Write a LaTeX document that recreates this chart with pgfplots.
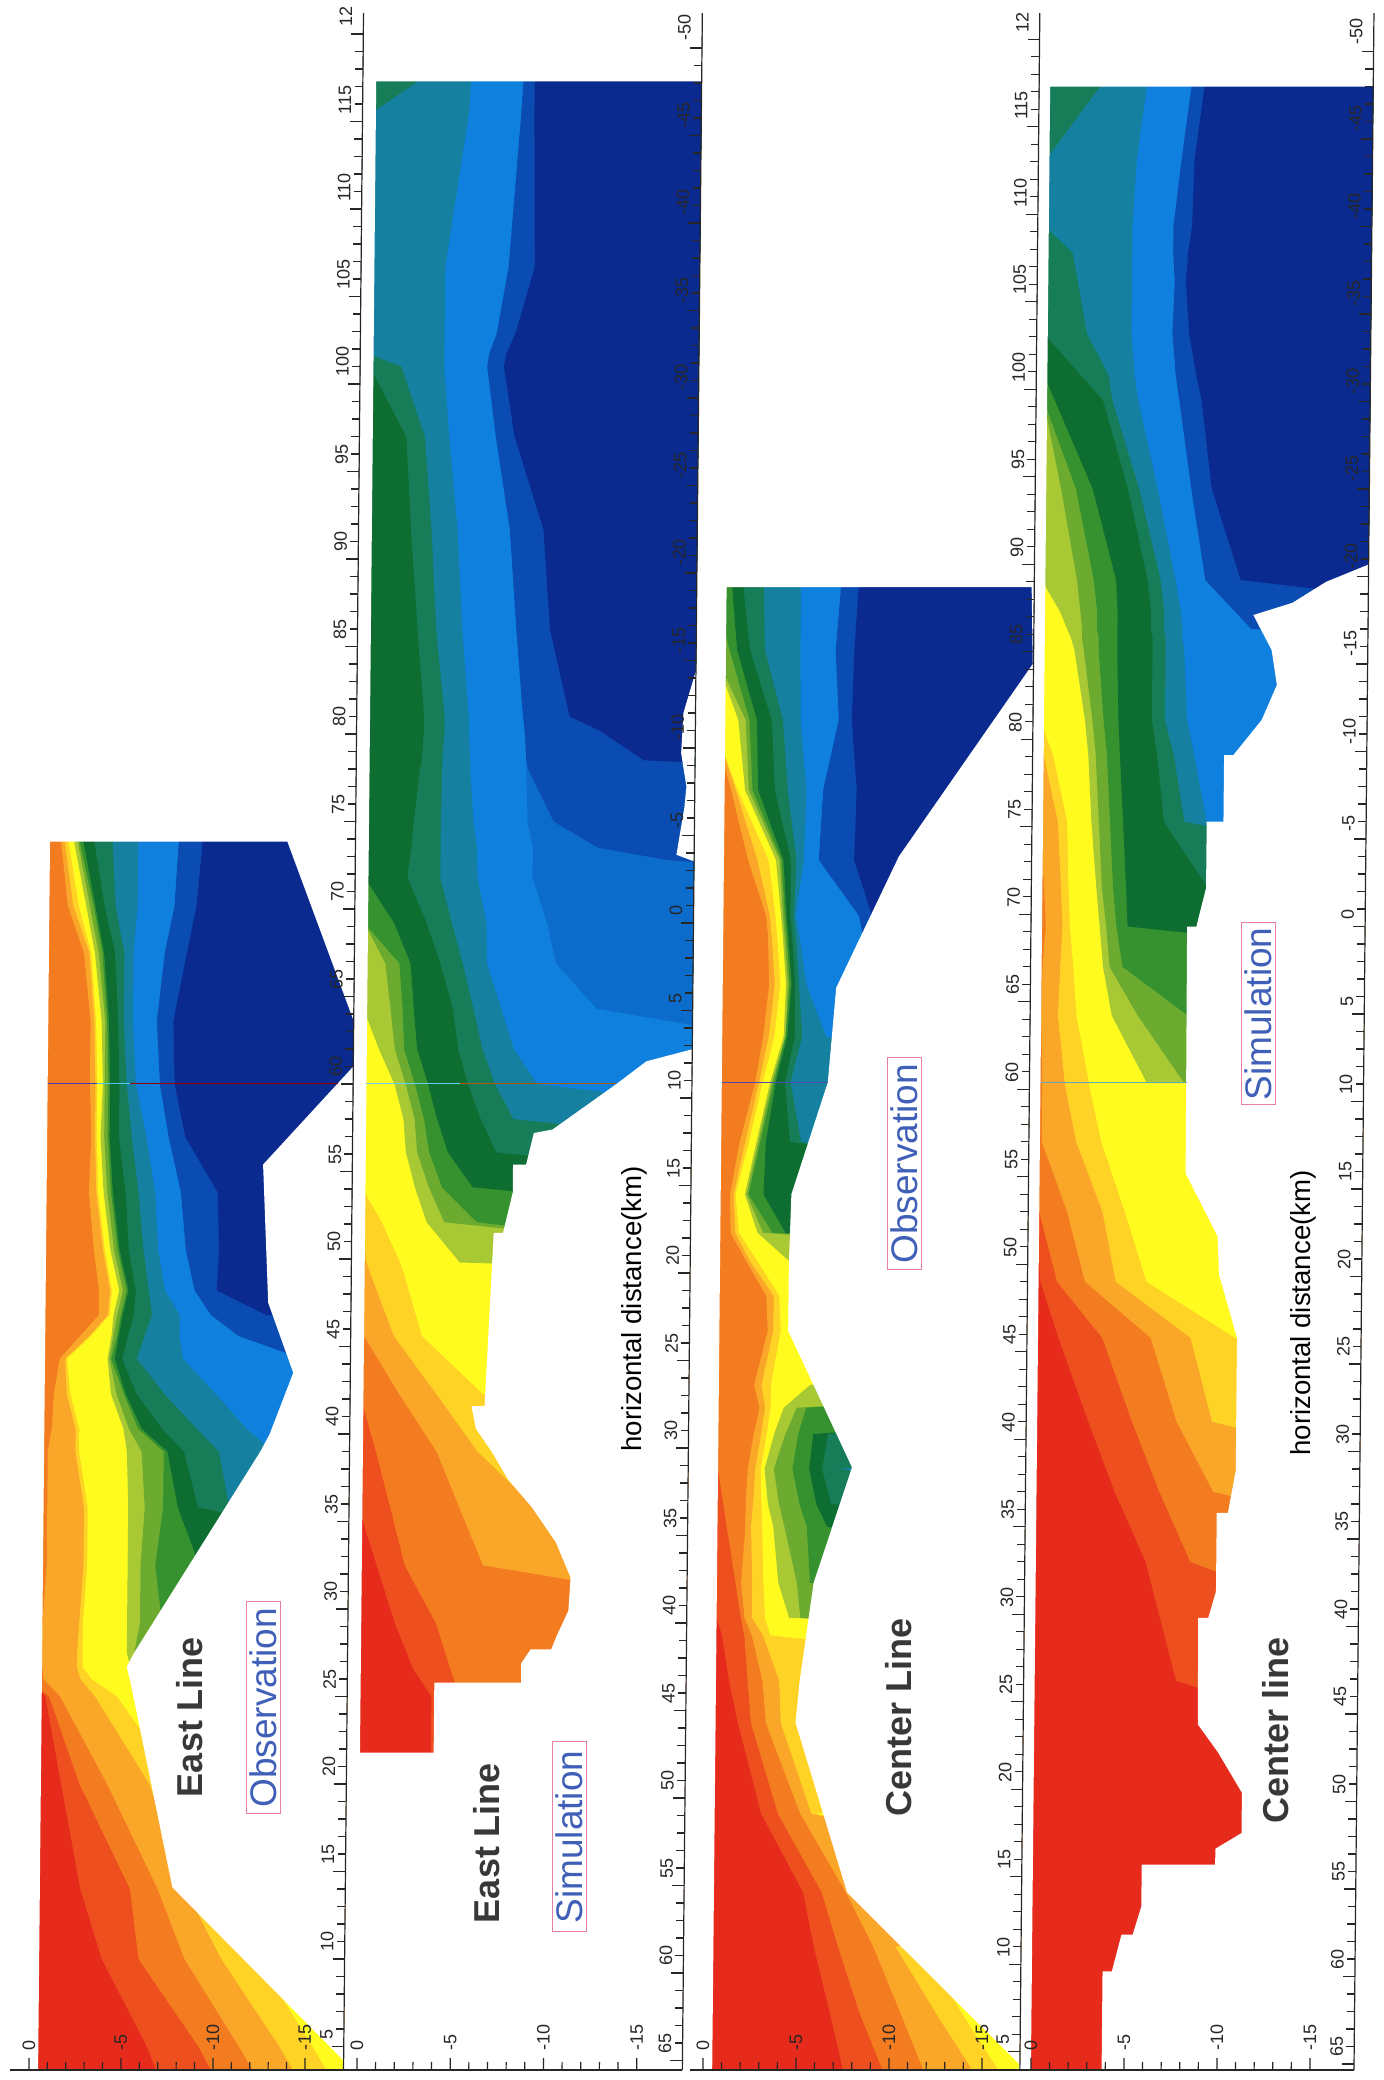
\documentclass[border=0pt]{standalone}
\usepackage{fontspec}
\setmainfont{Liberation Sans}
\usepackage{pgfplots}
\usepackage{pgfplotstable}
\pgfplotsset{compat=1.18}
\definecolor{col0}{HTML}{E62A1B}
\definecolor{col1}{HTML}{EE4F1E}
\definecolor{col2}{HTML}{F47C20}
\definecolor{col3}{HTML}{FAA628}
\definecolor{col4}{HTML}{FFD226}
\definecolor{col5}{HTML}{FFFB1E}
\definecolor{col6}{HTML}{A8C934}
\definecolor{col7}{HTML}{6CAB2F}
\definecolor{col8}{HTML}{35922E}
\definecolor{col9}{HTML}{0E6E31}
\definecolor{col10}{HTML}{177C58}
\definecolor{col11}{HTML}{1580A0}
\definecolor{col12}{HTML}{1080DE}
\definecolor{colb}{HTML}{0C6CCC}
\definecolor{col13}{HTML}{0B4CB2}
\definecolor{col14}{HTML}{0A2A90}
\definecolor{labblue}{HTML}{3F5FB8}
\definecolor{labpink}{HTML}{E87DA8}

\pgfplotstableread{
d k1 k2 k3 k4 k5 k6 k7 k8 k9 k10 k11 k12 k13 k14
130 -40 -40 -40 -40 -40 -40 -40 -40 -40 -40 -40 -40 -40 -40
130 0.2 0.2 -1.1 -1.3 -1.5 -1.8 -2 -2.1 -2.3 -2.9 -3.9 -5.3 -7.5 -8.8
73.9 0.2 0.2 -1.1 -1.3 -1.5 -1.8 -2 -2.1 -2.3 -2.9 -3.9 -5.3 -7.5 -8.8
70.2 0.2 0.2 -1.5 -1.8 -2.1 -2.5 -2.7 -2.9 -3 -3.5 -4.1 -5.3 -7.3 -8.5
67.5 0.2 0.2 -2.4 -2.7 -2.8 -3 -3.2 -3.4 -3.5 -4.1 -4.6 -5.1 -6.8 -8
63.6 0.2 0.2 -2.8 -3 -3.1 -3.4 -3.6 -3.7 -3.8 -4.3 -4.6 -5.1 -6.4 -7.3
60 0.2 0.2 -2.8 -3.1 -3.2 -3.5 -3.6 -3.8 -3.9 -4.4 -4.8 -5.3 -6.6 -7.4
57 0.2 0.2 -2.9 -3.1 -3.2 -3.4 -3.6 -3.8 -3.9 -4.4 -5.1 -5.9 -7.1 -8
53.8 0.2 0.2 -2.8 -3.2 -3.3 -3.6 -3.8 -4 -4.1 -4.8 -5.5 -6.4 -7.8 -9.8
50.5 0.2 0.2 -3.1 -3.6 -3.7 -4 -4.2 -4.4 -4.5 -5 -5.8 -6.6 -8.1 -9.9
48.2 0.2 0.2 -3.4 -4 -4.1 -4.5 -4.7 -4.9 -5 -5.4 -6.1 -7 -8.6 -9.8
46.8 0.2 0.2 -3.4 -3.9 -4 -4.2 -4.4 -4.6 -4.7 -5.3 -6.3 -7.8 -9.5 -12.5
45.6 0.2 0.2 -2.4 -2.9 -3 -4.1 -4.2 -4.4 -4.5 -5 -5.9 -7.8 -11 -25
44.3 0.2 0.2 -1.3 -1.6 -1.7 -3.9 -4 -4.1 -4.3 -4.7 -5.5 -8 -14.5 -25
42.3 0.2 0.2 -1 -1.7 -1.9 -4.1 -4.4 -4.8 -4.9 -5.5 -7 -9.8 -25 -25
40.3 0.2 0.2 -0.9 -2.2 -2.4 -4.8 -5.1 -5.6 -5.8 -6.9 -8.8 -11.5 -25 -25
39 0.2 0.2 -0.7 -2.2 -2.4 -5 -5.8 -7 -7.2 -8.1 -10 -13 -25 -25
35.8 0.2 0.2 -0.7 -2.7 -2.9 -5.1 -6 -7 -7.8 -8.9 -10.6 -25 -25 -25
32.5 0.2 0.2 -0.7 -2.7 -2.9 -5.1 -5.8 -6.6 -9 -25 -25 -25 -25 -25
29.2 0.2 0.2 -0.5 -2.5 -2.7 -5.1 -5.8 -7 -25 -25 -25 -25 -25 -25
27.5 0.2 0.2 -0.4 -2.4 -2.7 -5.1 -5.5 -6 -25 -25 -25 -25 -25 -25
26.7 0.2 0.2 -0.5 -2.4 -2.7 -5.3 -25 -25 -25 -25 -25 -25 -25 -25
26 0.2 0.2 -0.6 -2.6 -3.2 -25 -25 -25 -25 -25 -25 -25 -25 -25
25 -0.7 -0.9 -1.5 -3.4 -4.6 -25 -25 -25 -25 -25 -25 -25 -25 -25
20 -1.6 -2.6 -4.1 -6.4 -8 -25 -25 -25 -25 -25 -25 -25 -25 -25
14 -2.7 -5.4 -6.9 -8.4 -9.5 -25 -25 -25 -25 -25 -25 -25 -25 -25
10 -3.9 -5.9 -8.4 -10.4 -12.4 -25 -25 -25 -25 -25 -25 -25 -25 -25
5 -6.4 -9.2 -11.4 -13.6 -15.4 -25 -25 -25 -25 -25 -25 -25 -25 -25
-10 -12 -17 -20 -22 -24 -25 -25 -25 -25 -25 -25 -25 -25 -25
-10 -40 -40 -40 -40 -40 -40 -40 -40 -40 -40 -40 -40 -40 -40
}\tabA

\pgfplotstableread{
d k1 k2 k3 k4 k5 k6 k7 k8 k9 k10 k11 k12 kb k13 k14
130 -40 -40 -40 -40 -40 -40 -40 -40 -40 -40 -40 -40 -40 -40 -40
130 0.2 0.2 0.2 0.2 0.2 0.2 0.2 0.2 0.2 0.2 -2.25 -5.1 -7.9 -7.9 -8.5
117.3 0.2 0.2 0.2 0.2 0.2 0.2 0.2 0.2 0.2 0.2 -2.25 -5.1 -7.9 -7.9 -8.5
115.5 0.2 0.2 0.2 0.2 0.2 0.2 0.2 0.2 0.2 0.2 0.2 -5 -7.8 -7.8 -8.5
106.7 0.2 0.2 0.2 0.2 0.2 0.2 0.2 0.2 0.2 0.2 0.2 -3.8 -7.2 -7.2 -8.6
102.9 0.2 0.2 0.2 0.2 0.2 0.2 0.2 0.2 0.2 0.2 0.2 -3.8 -6.6 -6.6 -7.6
101.7 0.2 0.2 0.2 0.2 0.2 0.2 0.2 0.2 0.2 0.2 0.2 -3.8 -6.2 -6.2 -7.1
101 0.2 0.2 0.2 0.2 0.2 0.2 0.2 0.2 0.2 0.2 -1.5 -3.8 -6.1 -6.1 -7
97 0.2 0.2 0.2 0.2 0.2 0.2 0.2 0.2 0.2 -1.8 -2.8 -4.1 -6.6 -6.6 -7.6
91.7 0.2 0.2 0.2 0.2 0.2 0.2 0.2 0.2 0.2 -2.1 -3.2 -4.6 -7.4 -7.4 -9.2
86 0.2 0.2 0.2 0.2 0.2 0.2 0.2 0.2 0.2 -2.5 -3.5 -4.9 -7.8 -7.8 -9.6
81 0.2 0.2 0.2 0.2 0.2 0.2 0.2 0.2 0.2 -2.9 -4 -5.3 -8.2 -8.2 -10.7
80.2 0.2 0.2 0.2 0.2 0.2 0.2 0.2 0.2 0.2 -2.9 -4 -5.3 -8.3 -8.3 -12.3
78.5 0.2 0.2 0.2 0.2 0.2 0.2 0.2 0.2 0.2 -2.8 -3.9 -5.4 -8.4 -8.4 -14.7
78 0.2 0.2 0.2 0.2 0.2 0.2 0.2 0.2 0.2 -2.7 -3.9 -5.4 -8.4 -8.5 -25
75 0.2 0.2 0.2 0.2 0.2 0.2 0.2 0.2 0.2 -2.4 -3.85 -5.6 -8.5 -9.9 -25
73.5 0.2 0.2 0.2 0.2 0.2 0.2 0.2 0.2 0.2 -2.3 -3.85 -5.8 -8.8 -12.3 -25
72.8 0.2 0.2 0.2 0.2 0.2 0.2 0.2 0.2 0.2 -2.2 -3.85 -5.8 -8.8 -16 -25
72 0.2 0.2 0.2 0.2 0.2 0.2 0.2 0.2 0.2 -2.1 -3.85 -5.85 -8.8 -25 -25
71.8 0.2 0.2 0.2 0.2 0.2 0.2 0.2 0.2 0.2 -2.1 -3.85 -5.85 -8.8 -25 -25
69.2 0.2 0.2 0.2 0.2 0.2 0.2 0.2 0.2 -1.4 -3.15 -4.5 -6.35 -9.6 -25 -25
66.9 0.2 0.2 0.2 0.2 0.2 0.2 -0.95 -1.7 -2.3 -3.9 -5.1 -6.4 -10.1 -25 -25
64.3 0.2 0.2 0.2 0.2 0.2 0.2 -1.25 -1.9 -2.5 -4.6 -5.7 -7.2 -12.3 -25 -25
62 0.2 0.2 0.2 0.2 0.2 -0.65 -1.5 -2 -2.7 -4.9 -6.2 -7.9 -25 -25 -25
60 0.2 0.2 0.2 0.2 0.2 -1.5 -2.1 -2.6 -3.3 -5.45 -6.9 -9.15 -25 -25 -25
58 0.2 0.2 0.2 0.2 0.2 -2 -2.6 -3.1 -3.8 -6.15 -7.9 -25 -25 -25 -25
56.1 0.2 0.2 0.2 0.2 0.2 -2.15 -2.75 -3.4 -4.4 -7 -25 -25 -25 -25 -25
54.1 0.2 0.2 0.2 0.2 0.2 -2.65 -3.4 -4.1 -5.75 -25 -25 -25 -25 -25 -25
52.1 0.2 0.2 0.2 0.2 -0.9 -3.3 -4.25 -6 -25 -25 -25 -25 -25 -25 -25
49.8 0.2 0.2 0.2 -0.1 -1.9 -5.1 -25 -25 -25 -25 -25 -25 -25 -25 -25
49.2 0.2 0.2 0.2 -0.3 -2.1 -25 -25 -25 -25 -25 -25 -25 -25 -25 -25
45.6 0.2 0.2 0 -1.6 -3.1 -25 -25 -25 -25 -25 -25 -25 -25 -25 -25
42.3 0.2 0.2 -1.9 -3.9 -6.4 -25 -25 -25 -25 -25 -25 -25 -25 -25 -25
39 0.2 -0.7 -3.95 -6.15 -25 -25 -25 -25 -25 -25 -25 -25 -25 -25 -25
35.8 0.2 -1.5 -5.2 -9.3 -25 -25 -25 -25 -25 -25 -25 -25 -25 -25 -25
32.5 -0.8 -2.3 -6.5 -25 -25 -25 -25 -25 -25 -25 -25 -25 -25 -25 -25
29.2 -1.8 -4 -25 -25 -25 -25 -25 -25 -25 -25 -25 -25 -25 -25 -25
26.6 -2.8 -4.8 -25 -25 -25 -25 -25 -25 -25 -25 -25 -25 -25 -25 -25
25 -3.8 -5.3 -25 -25 -25 -25 -25 -25 -25 -25 -25 -25 -25 -25 -25
-10 -3.8 -5.3 -25 -25 -25 -25 -25 -25 -25 -25 -25 -25 -25 -25 -25
-10 -40 -40 -40 -40 -40 -40 -40 -40 -40 -40 -40 -40 -40 -40 -40
}\tabB

\pgfplotstableread{
d k1 k2 k3 k4 k5 k6 k7 k8 k9 k10 k11 k12 k13 k14
130 -40 -40 -40 -40 -40 -40 -40 -40 -40 -40 -40 -40 -40 -40
130 0.2 0.2 0.2 0.2 0.2 0.2 0.2 0.2 -0.8 -1.4 -2.5 -4.5 -6.65 -7.6
88.4 0.2 0.2 0.2 0.2 0.2 0.2 0.2 0.2 -0.8 -1.4 -2.5 -4.5 -6.65 -7.6
84.8 0.2 0.2 0.2 0.2 0.2 0.2 0.2 -0.7 -1.1 -1.8 -2.6 -4.5 -6.4 -7.4
80.8 0.2 0.2 0.2 0.2 0.2 -1.2 -1.6 -1.8 -2.2 -3 -3.6 -4.55 -6.6 -7.3
76.8 0.2 0.2 -0.85 -1.1 -1.2 -1.6 -1.8 -2 -2.3 -3.2 -3.9 -4.9 -5.8 -7.6
72.8 0.2 0.2 -1.8 -2.3 -2.9 -3.3 -3.5 -3.6 -3.7 -4.1 -4.4 -4.8 -5.6 -7.5
69.6 0.2 0.2 -2.8 -3 -3.3 -3.6 -3.7 -3.8 -3.9 -4.1 -4.3 -4.4 -7.8 -8.5
68.5 0.2 0.2 -2.9 -3.1 -3.4 -3.7 -3.8 -3.9 -4 -4.2 -4.4 -4.6 -8 -25
65.7 0.2 0.2 -3 -3.3 -3.6 -3.9 -4 -4.1 -4.2 -4.4 -4.6 -5 -25 -25
62.7 0.2 0.2 -2.7 -3 -3.3 -3.8 -3.9 -3.9 -4 -4.4 -4.8 -6.1 -25 -25
60.1 0.2 0.2 -2.3 -2.5 -2.7 -3.1 -3.2 -3.3 -3.4 -3.9 -4.2 -25 -25 -25
56.7 0.2 0.2 -1.5 -1.8 -2 -2.4 -2.5 -2.6 -2.9 -4.2 -4.8 -25 -25 -25
53.7 0.2 0.2 -1 -1.2 -1.3 -1.8 -1.9 -2 -2.8 -25 -25 -25 -25 -25
51.5 0.2 0.2 -1.05 -1.3 -1.5 -2.5 -2.8 -3.3 -4 -25 -25 -25 -25 -25
49.9 0.2 0.2 -1.9 -2.1 -2.5 -4.2 -25 -25 -25 -25 -25 -25 -25 -25
47.9 0.2 0.2 -3 -3.4 -3.7 -25 -25 -25 -25 -25 -25 -25 -25 -25
45.9 0.2 0.2 -3.1 -3.4 -3.8 -25 -25 -25 -25 -25 -25 -25 -25 -25
42.8 0.2 0.2 -2.4 -2.8 -3.3 -5.4 -25 -25 -25 -25 -25 -25 -25 -25
41.5 0.2 0.2 -2.7 -3 -3.3 -4 -4.7 -5.2 -25 -25 -25 -25 -25 -25
40 0.2 -0.3 -2.4 -2.8 -3.1 -3.5 -4.1 -4.8 -5.6 -6.4 -25 -25 -25 -25
38 0.2 -0.5 -2.1 -2.5 -2.8 -3 -3.5 -4.5 -5.4 -6.1 -7 -25 -25 -25
36 0.2 -0.8 -2 -2.4 -2.85 -3.2 -3.8 -4.9 -5.8 -6.6 -25 -25 -25 -25
34.7 0.2 -1 -2 -2.3 -2.9 -3.5 -4.1 -5.3 -6.4 -25 -25 -25 -25 -25
31.5 0.2 -1.5 -1.8 -2.4 -3 -3.8 -4.8 -5.5 -25 -25 -25 -25 -25 -25
29.5 -0.5 -1.8 -2 -2.4 -3.1 -4.4 -5 -25 -25 -25 -25 -25 -25 -25
28.5 -0.8 -2 -2.4 -3 -3.4 -25 -25 -25 -25 -25 -25 -25 -25 -25
25.9 -1.2 -2.2 -3 -3.9 -25 -25 -25 -25 -25 -25 -25 -25 -25 -25
23.5 -1.7 -2.4 -3.2 -4 -25 -25 -25 -25 -25 -25 -25 -25 -25 -25
18.3 -3 -3.9 -5.1 -5.7 -6 -25 -25 -25 -25 -25 -25 -25 -25 -25
13.8 -5.3 -6.3 -7.6 -25 -25 -25 -25 -25 -25 -25 -25 -25 -25 -25
10.7 -5.9 -7.2 -9.1 -10.3 -11.7 -25 -25 -25 -25 -25 -25 -25 -25 -25
6.9 -6.8 -8.4 -10.6 -12.5 -13.9 -25 -25 -25 -25 -25 -25 -25 -25 -25
3.8 -7.5 -9.6 -11.8 -14.4 -15.8 -25 -25 -25 -25 -25 -25 -25 -25 -25
-10 -7.5 -9.6 -11.8 -14.4 -15.8 -25 -25 -25 -25 -25 -25 -25 -25 -25
-10 -40 -40 -40 -40 -40 -40 -40 -40 -40 -40 -40 -40 -40 -40
}\tabC

\pgfplotstableread{
d k1 k2 k3 k4 k5 k6 k7 k8 k9 k10 k11 k12 k13 k14
130 -40 -40 -40 -40 -40 -40 -40 -40 -40 -40 -40 -40 -40 -40
130 0.2 0.2 0.2 0.2 0.2 0.2 0.2 0.2 0.2 0.2 -2.7 -5.2 -7.6 -8.3
117 0.2 0.2 0.2 0.2 0.2 0.2 0.2 0.2 0.2 0.2 -2.7 -5.2 -7.6 -8.3
112.8 0.2 0.2 0.2 0.2 0.2 0.2 0.2 0.2 0.2 0.2 0.2 -4.7 -7.1 -7.8
109 0.2 0.2 0.2 0.2 0.2 0.2 0.2 0.2 0.2 0.2 0.2 -4.5 -6.7 -7.7
107.5 0.2 0.2 0.2 0.2 0.2 0.2 0.2 0.2 0.2 0.2 -1.3 -4.5 -6.7 -7.5
105.8 0.2 0.2 0.2 0.2 0.2 0.2 0.2 0.2 0.2 0.2 -1.6 -4.5 -6.8 -7.4
102.9 0.2 0.2 0.2 0.2 0.2 0.2 0.2 0.2 0.2 0.2 -2.1 -4.5 -6.7 -7.6
100.5 0.2 0.2 0.2 0.2 0.2 0.2 0.2 0.2 0.2 -1.8 -3.3 -4.7 -6.9 -8
99.1 0.2 0.2 0.2 0.2 0.2 0.2 0.2 0.2 -0.4 -3 -3.5 -4.9 -7.1 -8.3
94 0.2 0.2 0.2 0.2 0.2 0.2 -0.8 -1.6 -2.5 -4.4 -5 -6 -7.8 -8.9
88.8 0.2 0.2 0.2 0.2 0.2 0.2 -1.7 -2.6 -3.8 -5.5 -6.2 -7 -8.6 -10.5
87 0.2 0.2 0.2 0.2 0.2 -0.8 -1.9 -2.8 -3.9 -5.7 -6.4 -7.3 -10.2 -25
86 0.2 0.2 0.2 0.2 0.2 -1.2 -2 -2.8 -3.9 -5.7 -6.4 -7.4 -11.1 -25
85.5 0.2 0.2 0.2 0.2 0.2 -1.4 -2 -2.9 -3.9 -5.8 -6.5 -7.4 -25 -25
84.8 0.2 0.2 0.2 0.2 0.2 -1.6 -2.1 -2.9 -3.9 -5.8 -6.5 -7.5 -25 -25
80.8 0.2 0.2 0.2 0.2 0.2 -2.2 -2.6 -3.2 -4 -5.8 -6.5 -7.7 -25 -25
78.8 0.2 0.2 0.2 0 -0.5 -2.4 -2.8 -3.4 -4.1 -6.1 -7 -8.1 -25 -25
75 0.2 0.2 0.2 -0.8 -1.3 -2.6 -3 -3.6 -4.3 -6.5 -7.6 -8.8 -25 -25
71.2 0.2 0.2 -0.1 -1 -1.4 -2.9 -3.2 -3.8 -4.5 -8.9 -25 -25 -25 -25
69 0.2 0.2 -0.2 -1.1 -1.5 -3.1 -3.45 -4 -4.6 -25 -25 -25 -25 -25
66.7 0.2 0.2 -0.05 -1 -1.7 -3.3 -3.65 -4.35 -25 -25 -25 -25 -25 -25
63.9 0.2 0.2 0 -0.9 -1.9 -3.8 -5.2 -7.9 -25 -25 -25 -25 -25 -25
60.1 0.2 0.2 -0.1 -1.3 -2.6 -5.7 -7.7 -25 -25 -25 -25 -25 -25 -25
60 0.2 0.2 -0.1 -1.3 -2.6 -25 -25 -25 -25 -25 -25 -25 -25 -25
56.7 0.2 0.2 -0.1 -1.95 -3.3 -25 -25 -25 -25 -25 -25 -25 -25 -25
52.7 0.2 0 -1.5 -3.4 -4.6 -25 -25 -25 -25 -25 -25 -25 -25 -25
48.7 -0.1 -1 -2.5 -4.15 -5.8 -25 -25 -25 -25 -25 -25 -25 -25 -25
45.5 -1.1 -3.45 -6.05 -8.2 -10.6 -25 -25 -25 -25 -25 -25 -25 -25 -25
40.7 -2.75 -5.1 -7.5 -9.4 -25 -25 -25 -25 -25 -25 -25 -25 -25 -25
36.7 -4.2 -6.6 -9.5 -25 -25 -25 -25 -25 -25 -25 -25 -25 -25 -25
32.7 -5.9 -8.3 -25 -25 -25 -25 -25 -25 -25 -25 -25 -25 -25 -25
25.9 -7.6 -25 -25 -25 -25 -25 -25 -25 -25 -25 -25 -25 -25 -25
20 -25 -25 -25 -25 -25 -25 -25 -25 -25 -25 -25 -25 -25 -25
-10 -25 -25 -25 -25 -25 -25 -25 -25 -25 -25 -25 -25 -25 -25
-10 -40 -40 -40 -40 -40 -40 -40 -40 -40 -40 -40 -40 -40 -40
}\tabD

\newcommand{\bandp}[3]{\addplot[fill=#3,draw=none,forget plot] table[x=#2,y=d]{#1};}
\newcommand{\bandsone}[1]{%
\addplot[fill=col0,draw=none,forget plot] coordinates {(0.2,140) (-40,140) (-40,-10) (0.2,-10)};
\bandp{#1}{k1}{col1}\bandp{#1}{k2}{col2}\bandp{#1}{k3}{col3}\bandp{#1}{k4}{col4}%
\bandp{#1}{k5}{col5}\bandp{#1}{k6}{col6}\bandp{#1}{k7}{col7}\bandp{#1}{k8}{col8}%
\bandp{#1}{k9}{col9}\bandp{#1}{k10}{col10}\bandp{#1}{k11}{col11}\bandp{#1}{k12}{col12}}
\newcommand{\bandstwo}[1]{\bandp{#1}{k13}{col13}\bandp{#1}{k14}{col14}}

\pgfplotsset{panel/.style={
  anchor=origin, clip=true, axis on top, x dir=reverse,
  ymin=3.66, ymax=121.2,
  axis x line=bottom, axis y line=right,
  x axis line style={-}, y axis line style={-},
  axis line style={line width=0.6pt,black!85},
  tick style={line width=0.6pt,black!85},
  tick align=inside, major tick length=6pt, minor tick length=4pt,
  xtick={0,-5,-10,-15}, xticklabels={0,-5,-10,-15},
  minor x tick num=4, minor y tick num=4,
  ticklabel style={font=\fontsize{9}{9}\selectfont,text=black!85},
  xticklabel style={rotate=90,anchor=west,xshift=6pt},
  yticklabel style={rotate=90,anchor=south west,xshift=0pt,yshift=2pt},
}}

\begin{document}
\begin{tikzpicture}[x=1pt,y=1pt]
\useasboundingbox (0,0) rectangle (691.5,1040);

% East Line, observation
\begin{axis}[panel, at={(14.45pt,5pt)}, x={(9.2pt,0pt)}, y={(0.085pt,8.75pt)},
  xmin=-17.1, xmax=1,
  ytick={5,10,15,20,25,30,35,40,45,50,55,60,65,70,75,80,85,90,95,100,105,110,115,120},
  yticklabels={5,10,15,20,25,30,35,40,45,50,55,60,65,70,75,80,85,90,95,100,105,110,115,12}]
\bandsone{\tabA}\bandstwo{\tabA}
\addplot[fill=white,draw=none,even odd rule,forget plot] coordinates {(0.3,140) (-40,140) (-40,-10) (0.3,-10) (0.3,140)
 (-0.5,73.85) (-13.4,73.85) (-17.1,63.6) (-17.1,61) (-12.25,55.4) (-12.6,47.5) (-14,43.5) (-12.75,40) (-12.25,39) (-5.5,27.5) (-5.1,26.7) (-5.3,25.9) (-7.7,14.1) (-17.1,4.2) (-17.1,-10) (-0.5,-10) (-0.5,73.85) (0.3,140)};
\addplot[color=blue!50!gray,line width=0.4pt,forget plot] coordinates {(-0.5,60.06) (-3.2,60.06)};
\addplot[color=cyan!70!white,line width=0.4pt,forget plot] coordinates {(-3.2,60.06) (-5,60.06)};
\addplot[color=red!60!black,line width=0.4pt,forget plot] coordinates {(-5,60.06) (-16.3,60.06)};
\end{axis}

% East Line, simulation
\begin{axis}[panel, at={(178.45pt,5pt)}, x={(9.325pt,0pt)}, y={(0.085pt,8.75pt)},
  xmin=-17.45, xmax=0.7,
  ytick={4.2,9.2,14.2,19.2,24.2,29.2,34.2,39.2,44.2,49.2,54.2,59.2,64.2,69.2,74.2,79.2,84.2,89.2,94.2,99.2,104.2,109.2,114.2,119.2},
  yticklabels={65,60,55,50,45,40,35,30,25,20,15,10,5,0,-5,-10,-15,-20,-25,-30,-35,-40,-45,-50}]
\bandsone{\tabB}\bandp{\tabB}{kb}{colb}\bandstwo{\tabB}
\addplot[fill=white,draw=none,even odd rule,forget plot] coordinates {(0.3,140) (-40,140) (-40,-10) (0.3,-10) (0.3,140)
 (0,117.3) (-17.6,117.3) (-17.5,83.8) (-16.8,81.2) (-16.7,78.9) (-17,77) (-16.9,75.8) (-16.5,73.1) (-17.5,72.7) (-17.5,62) (-15,61.3) (-13.4,60) (-10,57.4) (-9,57.2) (-8.6,55.4) (-7.9,55.4) (-7.9,53.8) (-7.4,51.5) (-6.9,51.5) (-6.5,41.6) (-5.8,41.6) (-6.05,40.3) (-6.9,39) (-7.8,37.4) (-9.1,35.8) (-10.4,33.8) (-11.2,31.8) (-11.1,29.9) (-10.5,28.5) (-10.2,27.7) (-9.1,27.7) (-8.6,26.9) (-8.6,25.8) (-3.95,25.8) (-3.95,21.8) (0,21.8) (0,117.3) (0.3,140)};
\addplot[color=cyan!60!white,line width=0.4pt,forget plot] coordinates {(0,60.06) (-5,60.06)};
\addplot[color=orange!70!black,line width=0.4pt,forget plot] coordinates {(-5,60.06) (-13.4,60.06)};
\end{axis}

% Center Line, observation
\begin{axis}[panel, at={(351.45pt,5pt)}, x={(9.3pt,0pt)}, y={(0.085pt,8.75pt)},
  xmin=-17.04, xmax=0.7,
  ytick={4.7,9.7,14.7,19.7,24.7,29.7,34.7,39.7,44.7,49.7,54.7,59.7,64.7,69.7,74.7,79.7,84.7,89.7,94.7,99.7,104.7,109.7,114.7,119.7},
  yticklabels={5,10,15,20,25,30,35,40,45,50,55,60,65,70,75,80,85,90,95,100,105,110,115,12}]
\bandsone{\tabC}\bandstwo{\tabC}
\addplot[fill=white,draw=none,even odd rule,forget plot] coordinates {(0.3,140) (-40,140) (-40,-10) (0.3,-10) (0.3,140)
 (-0.5,88.4) (-16.9,88.4) (-17,84) (-9.9,73) (-6.6,65.5) (-6.2,60.1) (-4.3,53.7) (-4.2,49.7) (-4.2,45.9) (-7.7,38.1) (-5.7,31.5) (-5,25.9) (-4.8,23.5) (-7.66,13.8) (-17,4) (-17,-10) (-0.5,-10) (-0.5,88.4) (0.3,140)};
\addplot[color=blue!40!gray,line width=0.35pt,forget plot] coordinates {(-0.5,60.1) (-6.2,60.1)};
\end{axis}

% Center line, simulation
\begin{axis}[panel, at={(515.45pt,5pt)}, x={(9.3pt,0pt)}, y={(0.085pt,8.75pt)},
  xmin=-17.37, xmax=0.7,
  ytick={4,9,14,19,24,29,34,39,44,49,54,59,64,69,74,79,84,89,94,99,104,109,114,119},
  yticklabels={65,60,55,50,45,40,35,30,25,20,15,10,5,0,-5,-10,-15,-20,-25,-30,-35,-40,-45,-50}]
\bandsone{\tabD}\bandstwo{\tabD}
\addplot[fill=white,draw=none,even odd rule,forget plot] coordinates {(0.3,140) (-40,140) (-40,-10) (0.3,-10) (0.3,140)
 (0,117) (-17.4,117) (-17.4,89.7) (-15.1,88.7) (-13.3,87.5) (-11.2,86.8) (-12.2,84.8) (-12.5,82.8) (-11.7,80.8) (-10.2,78.8) (-9.7,78.8) (-9.7,75) (-8.8,75) (-8.8,71.2) (-8.3,69) (-7.8,69) (-7.85,54.9) (-9.6,51.3) (-9.7,49.1) (-10.7,45.5) (-10.7,37.9) (-10.3,35.5) (-9.7,35.5) (-9.7,31) (-9.3,29.5) (-8.75,29.5) (-8.8,23.4) (-9.9,21.8) (-11.2,19.5) (-11.2,17.2) (-9.8,16.3) (-9.8,15.4) (-5.85,15.4) (-5.85,13) (-5.4,11.4) (-4.8,11.4) (-4.3,9.3) (-3.8,9.3) (-3.8,-10) (0,-10) (0,117) (0.3,140)};
\addplot[color=cyan!50!gray,line width=0.35pt,forget plot] coordinates {(0,60.1) (-7.85,60.1)};
\end{axis}

% labels
\tikzset{lab/.style={rotate=90,font=\bfseries\fontsize{18}{18}\selectfont,text=black!78,inner sep=0pt},
 boxed/.style={rotate=90,font=\fontsize{18.5}{18.5}\selectfont,text=labblue,draw=labpink,line width=0.5pt,inner sep=0pt,minimum height=17pt,align=center},
 axl/.style={rotate=90,font=\fontsize{13.8}{13.8}\selectfont,text=black,inner sep=0pt}}
\node[lab] at (95,181.5) {East Line};
\node[boxed,minimum width=106pt] at (131.5,186) {Observation};
\node[lab] at (243.5,118.5) {East Line};
\node[boxed,minimum width=95pt] at (284.5,121.5) {Simulation};
\node[axl] at (317,385.5) {horizontal distance(km)};
\node[lab] at (449.5,181.5) {Center Line};
\node[boxed,minimum width=106pt] at (452,458) {Observation};
\node[lab] at (638,175) {Center line};
\node[boxed,minimum width=91pt] at (629,533) {Simulation};
\node[axl] at (651.5,383.5) {horizontal distance(km)};
\end{tikzpicture}
\end{document}
